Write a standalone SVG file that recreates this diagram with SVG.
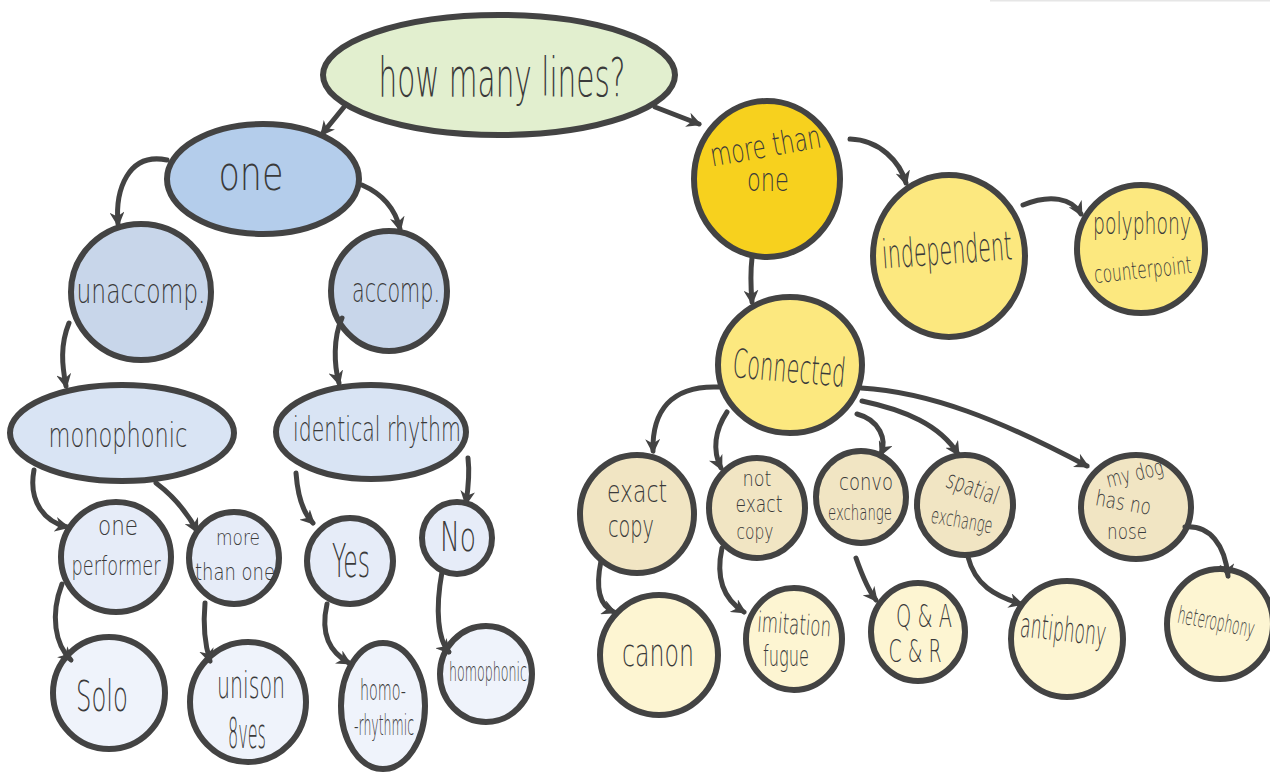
<svg xmlns="http://www.w3.org/2000/svg" width="1270" height="773" viewBox="0 0 1270 773">
<style>
.n{stroke:#434343;stroke-width:6}
.c{fill:none;stroke:#434343;stroke-width:5;stroke-linecap:round;marker-end:url(#ah)}
text{font-family:"DejaVu Sans ExtraLight","DejaVu Sans",sans-serif;fill:#3a3a3a;text-anchor:middle;font-weight:200}
.b1{fill:#b4cdeb}.b2{fill:#c8d6ea}.b3{fill:#d9e4f4}.b4{fill:#e6ecf8}.b5{fill:#eff3fb}
.y1{fill:#f7d11e}.y2{fill:#fce87f}.y3{fill:#f1e5c3}.y4{fill:#fdf5d2}
</style>
<defs>
<marker id="ah" viewBox="0 0 10 10" refX="8" refY="5" markerWidth="15" markerHeight="15" markerUnits="userSpaceOnUse" orient="auto">
<path d="M0,0 L10,5 L0,10 L3,5 z" fill="#434343"/>
</marker>
</defs>
<rect width="1270" height="773" fill="#ffffff"/>
<line x1="990" y1="0.5" x2="1270" y2="0.5" stroke="#e6e6e6" stroke-width="2"/>

<g id="root"><ellipse class="n" cx="499" cy="75" rx="176" ry="60" fill="#e2efcf"/><text x="502" y="96" font-size="54" textLength="247" lengthAdjust="spacingAndGlyphs">how many lines?</text></g>
<g id="one"><ellipse class="n b1" cx="263" cy="179" rx="96" ry="55"/><text x="251" y="190" font-size="48" textLength="65" lengthAdjust="spacingAndGlyphs">one</text></g>
<g id="unaccomp"><ellipse class="n b2" cx="141" cy="292" rx="70" ry="68"/><text x="141" y="303" font-size="34" textLength="129" lengthAdjust="spacingAndGlyphs">unaccomp.</text></g>
<g id="accomp"><ellipse class="n b2" cx="389" cy="291" rx="58" ry="60"/><text x="396" y="302" font-size="34" textLength="88" lengthAdjust="spacingAndGlyphs">accomp.</text></g>
<g id="monophonic"><ellipse class="n b3" cx="122" cy="433" rx="112" ry="48"/><text x="118" y="447" font-size="34" textLength="139" lengthAdjust="spacingAndGlyphs">monophonic</text></g>
<g id="identical"><ellipse class="n b3" cx="371" cy="432" rx="95" ry="47"/><text x="377" y="441" font-size="34" textLength="168" lengthAdjust="spacingAndGlyphs">identical rhythm</text></g>
<g id="oneperformer"><ellipse class="n b4" cx="116" cy="557" rx="55" ry="55"/><text x="118" y="535" font-size="26" textLength="40" lengthAdjust="spacingAndGlyphs">one</text><text x="116" y="575" font-size="26" textLength="89" lengthAdjust="spacingAndGlyphs">performer</text></g>
<g id="morethanone-l"><ellipse class="n b4" cx="234" cy="558" rx="45" ry="46"/><text x="238" y="545" font-size="22" textLength="44" lengthAdjust="spacingAndGlyphs">more</text><text x="235" y="580" font-size="23" textLength="80" lengthAdjust="spacingAndGlyphs">than one</text></g>
<g id="yes"><ellipse class="n b4" cx="350" cy="561" rx="43" ry="43"/><text x="351" y="577" font-size="46" textLength="38" lengthAdjust="spacingAndGlyphs">Yes</text></g>
<g id="no"><ellipse class="n b4" cx="457" cy="538" rx="35" ry="36"/><text x="458" y="551" font-size="40" textLength="36" lengthAdjust="spacingAndGlyphs">No</text></g>
<g id="solo"><ellipse class="n b5" cx="109" cy="693" rx="56" ry="56"/><text x="102" y="711" font-size="42" textLength="52" lengthAdjust="spacingAndGlyphs">Solo</text></g>
<g id="unison"><ellipse class="n b5" cx="248" cy="702" rx="58" ry="60"/><text x="251" y="698" font-size="38" textLength="68" lengthAdjust="spacingAndGlyphs">unison</text><text x="247" y="748" font-size="42" textLength="38" lengthAdjust="spacingAndGlyphs">8ves</text></g>
<g id="homorhythmic"><ellipse class="n b5" cx="383" cy="706" rx="42" ry="63"/><text x="383" y="700" font-size="28" textLength="46" lengthAdjust="spacingAndGlyphs">homo-</text><text x="384" y="735" font-size="28" textLength="60" lengthAdjust="spacingAndGlyphs">-rhythmic</text></g>
<g id="homophonic"><ellipse class="n b5" cx="486" cy="674" rx="46" ry="48"/><text x="488" y="681" font-size="26" textLength="78" lengthAdjust="spacingAndGlyphs">homophonic</text></g>

<g id="morethanone"><ellipse class="n y1" cx="767" cy="179" rx="73" ry="78"/><text x="766" y="157" font-size="32" textLength="112" lengthAdjust="spacingAndGlyphs" transform="rotate(-10 766 149)">more than</text><text x="768" y="191" font-size="32" textLength="42" lengthAdjust="spacingAndGlyphs">one</text></g>
<g id="independent"><ellipse class="n y2" cx="949" cy="256" rx="76" ry="81"/><text x="947" y="264" font-size="40" textLength="130" lengthAdjust="spacingAndGlyphs" transform="rotate(-4 947 252)">independent</text></g>
<g id="polyphony"><ellipse class="n y2" cx="1141" cy="249" rx="64" ry="64"/><text x="1142" y="234" font-size="30" textLength="98" lengthAdjust="spacingAndGlyphs">polyphony</text><text x="1143" y="278" font-size="24" textLength="98" lengthAdjust="spacingAndGlyphs" transform="rotate(-6 1143 270)">counterpoint</text></g>
<g id="connected"><ellipse class="n y2" cx="790" cy="365" rx="72" ry="68"/><text x="789" y="382" font-size="40" textLength="113" lengthAdjust="spacingAndGlyphs" transform="rotate(5 789 370)">Connected</text></g>
<g id="exactcopy"><ellipse class="n y3" cx="637" cy="514" rx="57" ry="59"/><text x="637" y="502" font-size="30" textLength="60" lengthAdjust="spacingAndGlyphs">exact</text><text x="631" y="537" font-size="30" textLength="46" lengthAdjust="spacingAndGlyphs">copy</text></g>
<g id="notexactcopy"><ellipse class="n y3" cx="757" cy="508" rx="48" ry="50"/><text x="757" y="486" font-size="22" textLength="29" lengthAdjust="spacingAndGlyphs">not</text><text x="759" y="512" font-size="23" textLength="47" lengthAdjust="spacingAndGlyphs">exact</text><text x="755" y="539" font-size="22" textLength="37" lengthAdjust="spacingAndGlyphs">copy</text></g>
<g id="convo"><ellipse class="n y3" cx="861" cy="497" rx="45" ry="46"/><text x="866" y="490" font-size="23" textLength="54" lengthAdjust="spacingAndGlyphs">convo</text><text x="860" y="520" font-size="21" textLength="64" lengthAdjust="spacingAndGlyphs">exchange</text></g>
<g id="spatial"><ellipse class="n y3" cx="965" cy="505" rx="48" ry="50"/><text x="972" y="496" font-size="25" textLength="54" lengthAdjust="spacingAndGlyphs" transform="rotate(20 972 490)">spatial</text><text x="962" y="528" font-size="22" textLength="62" lengthAdjust="spacingAndGlyphs" transform="rotate(10 962 520)">exchange</text></g>
<g id="mydog"><ellipse class="n y3" cx="1136" cy="507" rx="55" ry="52"/><text x="1135" y="481" font-size="22" textLength="58" lengthAdjust="spacingAndGlyphs" transform="rotate(-14 1135 475)">my dog</text><text x="1123" y="510" font-size="22" textLength="56" lengthAdjust="spacingAndGlyphs" transform="rotate(10 1123 504)">has no</text><text x="1127" y="539" font-size="22" textLength="40" lengthAdjust="spacingAndGlyphs">nose</text></g>
<g id="canon"><ellipse class="n y4" cx="659" cy="655" rx="59" ry="60"/><text x="658" y="666" font-size="38" textLength="72" lengthAdjust="spacingAndGlyphs">canon</text></g>
<g id="imitation"><ellipse class="n y4" cx="794" cy="639" rx="48" ry="51"/><text x="794" y="634" font-size="28" textLength="74" lengthAdjust="spacingAndGlyphs" transform="rotate(4 794 628)">imitation</text><text x="786" y="666" font-size="28" textLength="46" lengthAdjust="spacingAndGlyphs">fugue</text></g>
<g id="qa"><ellipse class="n y4" cx="918" cy="632" rx="47" ry="49"/><text x="924" y="627" font-size="32" textLength="56" lengthAdjust="spacingAndGlyphs">Q &amp; A</text><text x="915" y="662" font-size="32" textLength="53" lengthAdjust="spacingAndGlyphs">C &amp; R</text></g>
<g id="antiphony"><ellipse class="n y4" cx="1067" cy="639" rx="56" ry="58"/><text x="1063" y="641" font-size="34" textLength="86" lengthAdjust="spacingAndGlyphs" transform="rotate(6 1063 632)">antiphony</text></g>
<g id="heterophony"><ellipse class="n y4" cx="1220" cy="624" rx="53" ry="55"/><text x="1216" y="630" font-size="24" textLength="78" lengthAdjust="spacingAndGlyphs" transform="rotate(11 1216 623)">heterophony</text></g>

<g id="connectors">
<path class="c" d="M344,107 L322,134"/>
<path class="c" d="M655,107 L699,124"/>
<path class="c" d="M167,160 C128,152 115,190 118,224"/>
<path class="c" d="M362,185 C385,195 396,212 400,229"/>
<path class="c" d="M69,323 C60,345 62,365 66,386"/>
<path class="c" d="M342,318 C333,338 334,365 339,383"/>
<path class="c" d="M34,470 C28,502 45,522 67,527"/>
<path class="c" d="M156,483 C176,498 189,516 197,531"/>
<path class="c" d="M296,473 C298,500 305,515 313,523"/>
<path class="c" d="M468,458 C470,475 468,490 466,503"/>
<path class="c" d="M62,584 C50,615 55,645 71,660"/>
<path class="c" d="M205,603 C203,625 205,645 210,661"/>
<path class="c" d="M327,604 C320,635 330,652 349,663"/>
<path class="c" d="M442,572 C435,610 438,640 449,652"/>
<path class="c" d="M850,139 C880,140 900,162 906,183"/>
<path class="c" d="M1023,205 C1050,194 1072,198 1081,214"/>
<path class="c" d="M752,258 C750,275 751,290 752,302"/>
<path class="c" d="M719,387 C670,385 652,412 653,451"/>
<path class="c" d="M727,412 C715,430 712,450 721,468"/>
<path class="c" d="M857,414 C880,420 887,440 881,454"/>
<path class="c" d="M862,401 C905,410 940,425 958,454"/>
<path class="c" d="M861,388 C930,392 1000,420 1087,466"/>
<path class="c" d="M601,561 C595,590 600,606 614,612"/>
<path class="c" d="M722,548 C715,580 725,600 744,612"/>
<path class="c" d="M856,558 C862,575 868,590 876,600"/>
<path class="c" d="M968,557 C975,585 995,596 1021,604"/>
<path class="c" d="M1185,527 C1210,525 1225,545 1228,576"/>
</g>
</svg>
